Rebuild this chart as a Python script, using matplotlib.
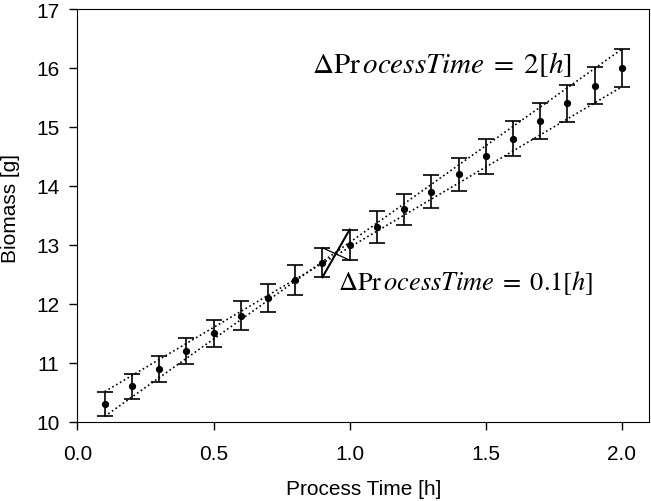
import matplotlib
matplotlib.use("Agg")
import matplotlib.pyplot as plt

# data
process_time = [0.1, 0.2, 0.3, 0.4, 0.5, 0.6, 0.7, 0.8, 0.9, 1.0,
                1.1, 1.2, 1.3, 1.4, 1.5, 1.6, 1.7, 1.8, 1.9, 2.0]
biomass = [10.3, 10.6, 10.9, 11.2, 11.5, 11.8, 12.1, 12.4, 12.7, 13.0,
           13.3, 13.6, 13.9, 14.2, 14.5, 14.8, 15.1, 15.4, 15.7, 16.0]
biomass_err = [0.21, 0.21, 0.22, 0.22, 0.23, 0.24, 0.24, 0.25, 0.25, 0.26,
               0.27, 0.27, 0.28, 0.28, 0.29, 0.30, 0.30, 0.31, 0.31, 0.32]
label_long = r'$\Delta\mathrm{Pr}\,ocessTime\;=\;2[h]$'
label_short = r'$\Delta\mathrm{Pr}\,ocessTime\;=\;0.1[h]$'

plt.rcParams['font.family'] = ['Liberation Sans', 'DejaVu Sans']
plt.rcParams['mathtext.fontset'] = 'stix'

fig = plt.figure(figsize=(6.51, 5.02), dpi=100)
ax = fig.add_axes([0.119, 0.158, 0.878, 0.822])

ax.errorbar(process_time, biomass, yerr=biomass_err, fmt='o', color='black',
            ms=4.2, capsize=5.5, elinewidth=1.2, capthick=1.2)

# envelope over the whole time span (dotted)
t0, t1 = process_time[0], process_time[-1]
ax.plot([t0, t1], [biomass[0] - biomass_err[0], biomass[-1] + biomass_err[-1]],
        ls=':', color='black', lw=1.2)
ax.plot([t0, t1], [biomass[0] + biomass_err[0], biomass[-1] - biomass_err[-1]],
        ls=':', color='black', lw=1.2)

# envelope over one step (solid)
i = 8
ax.plot([process_time[i], process_time[i + 1]],
        [biomass[i] - biomass_err[i], biomass[i + 1] + biomass_err[i + 1]],
        color='black', lw=1.5)
ax.plot([process_time[i], process_time[i + 1]],
        [biomass[i] + biomass_err[i], biomass[i + 1] - biomass_err[i + 1]],
        color='black', lw=0.9)

ax.text(0.86, 16.08, label_long, fontsize=21, va='center', ha='left')
ax.text(0.958, 12.37, label_short, fontsize=19, va='center', ha='left')

ax.set_xlim(0, 2.1)
ax.set_ylim(10, 17)
ax.set_xticks([0.0, 0.5, 1.0, 1.5, 2.0])
ax.set_xticklabels(['0.0', '0.5', '1.0', '1.5', '2.0'])
ax.set_yticks(range(10, 18))
ax.tick_params(direction='out', length=6, width=1, labelsize=15)
ax.tick_params(axis='x', pad=10)
ax.tick_params(axis='y', pad=7)
ax.set_xlabel('Process Time [h]', fontsize=15, va='center')
ax.set_ylabel('Biomass [g]', fontsize=15, va='center')
ax.xaxis.set_label_coords(0.5, -0.161)
ax.yaxis.set_label_coords(-0.117, 0.52)

fig.savefig('out.png', dpi=100)
